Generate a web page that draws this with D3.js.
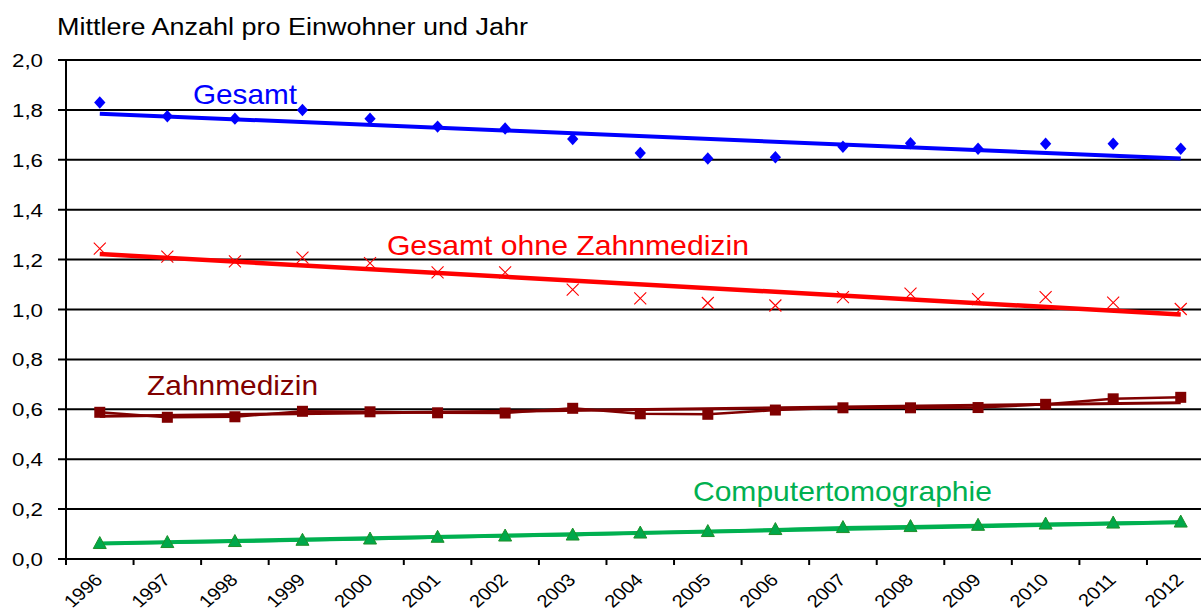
<!DOCTYPE html>
<html>
<head>
<meta charset="utf-8">
<script src="https://cdn.jsdelivr.net/npm/d3@7"></script>
<style>
  html, body { margin: 0; padding: 0; background: #fff; }
  svg { display: block; font-family: "Liberation Sans", Arial, sans-serif; }
</style>
</head>
<body>
<svg id="chart" width="1201" height="611"></svg>
<script>
// Jahre (Kategorien der x-Achse)
const years = ["1996","1997","1998","1999","2000","2001","2002","2003","2004",
               "2005","2006","2007","2008","2009","2010","2011","2012"];

// Mittlere Anzahl pro Einwohner und Jahr
const gesamt = [1.83, 1.775, 1.765, 1.80, 1.765, 1.733, 1.725, 1.683, 1.627,
                1.605, 1.61, 1.652, 1.666, 1.644, 1.664, 1.664, 1.644];
const ohneZahn = [1.244, 1.212, 1.193, 1.208, 1.186, 1.149, 1.149, 1.08, 1.045,
                  1.026, 1.016, 1.05, 1.064, 1.042, 1.05, 1.028, 1.002];
const zahn = [0.588, 0.568, 0.57, 0.592, 0.59, 0.586, 0.585, 0.604, 0.582,
              0.58, 0.597, 0.606, 0.606, 0.607, 0.62, 0.642, 0.648];
const ct = [0.062, 0.066, 0.07, 0.075, 0.08, 0.087, 0.092, 0.096, 0.104,
            0.11, 0.118, 0.126, 0.13, 0.135, 0.14, 0.144, 0.148];

// Lineare Trends: Werte 1996 und 2012
const trendGesamt = [1.785, 1.605];
const trendOhneZahn = [1.222, 0.98];
const trendZahn = [0.572, 0.626];
const trendCt = [0.062, 0.147];

// Achsenbeschriftungen
const yTicks = [0, 0.2, 0.4, 0.6, 0.8, 1.0, 1.2, 1.4, 1.6, 1.8, 2.0];
const title = "Mittlere Anzahl pro Einwohner und Jahr";
const seriesNames = ["Gesamt", "Gesamt ohne Zahnmedizin", "Zahnmedizin", "Computertomographie"];

const svg = d3.select("#chart");
const plotLeft = 66, plotTop = 60, plotBottom = 559;
const band = 67.56;

const x = d3.scaleBand().domain(years).range([plotLeft, plotLeft + band * years.length]).padding(0);
const cx = d => x(d) + x.bandwidth() / 2;
const xi = d3.scaleLinear().domain([0, years.length - 1]).range([cx(years[0]), cx(years[years.length - 1])]);
const y = d3.scaleLinear().domain([0, 2]).range([plotBottom, plotTop]);

// Gitterlinien
svg.append("g").selectAll("line").data(yTicks).join("line")
  .attr("x1", plotLeft - 8).attr("x2", 1201)
  .attr("y1", d => y(d)).attr("y2", d => y(d))
  .attr("stroke", "#000").attr("stroke-width", 2);

// y-Achse
svg.append("line").attr("x1", plotLeft).attr("x2", plotLeft)
  .attr("y1", y(2)).attr("y2", plotBottom + 6)
  .attr("stroke", "#000").attr("stroke-width", 2);

// x-Teilstriche an den Kategoriegrenzen
svg.append("g").selectAll("line").data(years.concat(["end"])).join("line")
  .attr("x1", (d, i) => plotLeft + i * x.bandwidth())
  .attr("x2", (d, i) => plotLeft + i * x.bandwidth())
  .attr("y1", plotBottom).attr("y2", plotBottom + 6)
  .attr("stroke", "#000").attr("stroke-width", 2);

// y-Beschriftungen
const fmt = v => d3.format(".1f")(v).replace(".", ",");
svg.append("g").selectAll("text").data(yTicks).join("text")
  .attr("x", 12).attr("y", d => y(d) + 7)
  .attr("font-size", 19).attr("fill", "#000")
  .attr("textLength", 31).attr("lengthAdjust", "spacingAndGlyphs")
  .text(fmt);

// x-Beschriftungen (gedreht)
svg.append("g").selectAll("text").data(years).join("text")
  .attr("text-anchor", "end")
  .attr("font-size", 17.5).attr("fill", "#000")
  .attr("transform", d => `translate(${cx(d) + 4},${plotBottom + 22}) scale(1.15,1) rotate(-45)`)
  .text(d => d);

// Titel
svg.append("text").attr("x", 57).attr("y", 35)
  .attr("font-size", 23).attr("fill", "#000")
  .attr("textLength", 471).attr("lengthAdjust", "spacingAndGlyphs")
  .text(title);

const trendLine = (vals, color, w) => svg.append("line")
  .attr("x1", xi(0)).attr("x2", xi(years.length - 1))
  .attr("y1", y(vals[0])).attr("y2", y(vals[1]))
  .attr("stroke", color).attr("stroke-width", w).attr("stroke-linecap", "butt");

const dataLine = (vals, color, w) => svg.append("path")
  .datum(vals)
  .attr("d", d3.line().x((d, i) => xi(i)).y(d => y(d)))
  .attr("fill", "none").attr("stroke", color).attr("stroke-width", w)
  .attr("stroke-linejoin", "round");

// Gesamt: Rauten + Trend
svg.append("g").selectAll("path").data(gesamt).join("path")
  .attr("d", d3.symbol(d3.symbolDiamond2, 90))
  .attr("transform", (d, i) => `translate(${xi(i)},${y(d)}) scale(0.95,1.05)`)
  .attr("fill", "#0000ff");
trendLine(trendGesamt, "#0000ff", 4);

// Gesamt ohne Zahnmedizin: Kreuze + Trend
svg.append("g").selectAll("path").data(ohneZahn).join("path")
  .attr("d", "M-6,-6L6,6M-6,6L6,-6")
  .attr("transform", (d, i) => `translate(${xi(i)},${y(d)})`)
  .attr("stroke", "#ff0000").attr("stroke-width", 1.1).attr("fill", "none");
trendLine(trendOhneZahn, "#ff0000", 4.5);

// Zahnmedizin: Linie, Quadrate + Trend
dataLine(zahn, "#800000", 2.5);
trendLine(trendZahn, "#800000", 3);
svg.append("g").selectAll("rect").data(zahn).join("rect")
  .attr("x", (d, i) => xi(i) - 5.5).attr("y", d => y(d) - 5.5)
  .attr("width", 11).attr("height", 11)
  .attr("fill", "#800000");

// Computertomographie: Linie, Dreiecke + Trend
dataLine(ct, "#00b050", 3);
trendLine(trendCt, "#00b050", 4);
svg.append("g").selectAll("path").data(ct).join("path")
  .attr("d", "M0,-7L6.5,5L-6.5,5Z")
  .attr("transform", (d, i) => `translate(${xi(i)},${y(d)})`)
  .attr("fill", "#00a84a").attr("stroke", "#1f8f2a").attr("stroke-width", 1);

// Reihenbeschriftungen
const labelIdx = [1.38, 4.25, 0.70, 8.78];
const labelVal = [1.824, 1.218, 0.657, 0.232];
const labelLen = [104, 362, 171, 299];
const labelColor = ["#0000ff", "#ff0000", "#800000", "#00b050"];
svg.append("g").selectAll("text").data(seriesNames).join("text")
  .attr("x", (d, i) => xi(labelIdx[i]))
  .attr("y", (d, i) => y(labelVal[i]))
  .attr("font-size", 28)
  .attr("fill", (d, i) => labelColor[i])
  .attr("textLength", (d, i) => labelLen[i])
  .attr("lengthAdjust", "spacingAndGlyphs")
  .text(d => d);
</script>
</body>
</html>
